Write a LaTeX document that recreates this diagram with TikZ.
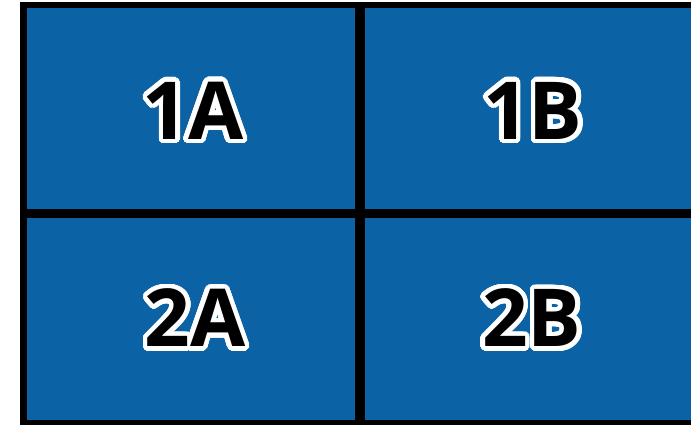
\documentclass[tikz,border=0pt]{standalone}
\usepackage{fontspec}
\setmainfont{Open Sans}
\usepackage{contour}
\contourlength{4.5pt}
\contournumber{48}
\definecolor{cellblue}{RGB}{11,98,164}
\begin{document}
\begin{tikzpicture}[x=1pt,y=-1pt,
  cell/.style={fill=cellblue,draw=none},
  lbl/.style={font=\bfseries\fontsize{80}{80}\selectfont,text=black,inner sep=0pt}]
\useasboundingbox (0,0) rectangle (691,425);
\fill[black] (20,2) rectangle (691,425);
\fill[cell] (27,8) rectangle (355,209);
\fill[cell] (365,8) rectangle (691,209);
\fill[cell] (27,218) rectangle (355,420);
\fill[cell] (365,218) rectangle (691,420);
\node[lbl] (a1) at (193,113) {\contour{white}{1A}};
\node[lbl] (b1) at (533,113) {\contour{white}{1B}};
\node[lbl] (a2) at (195,320) {\contour{white}{2A}};
\node[lbl] (b2) at (532,320) {\contour{white}{2B}};
\end{tikzpicture}
\end{document}
